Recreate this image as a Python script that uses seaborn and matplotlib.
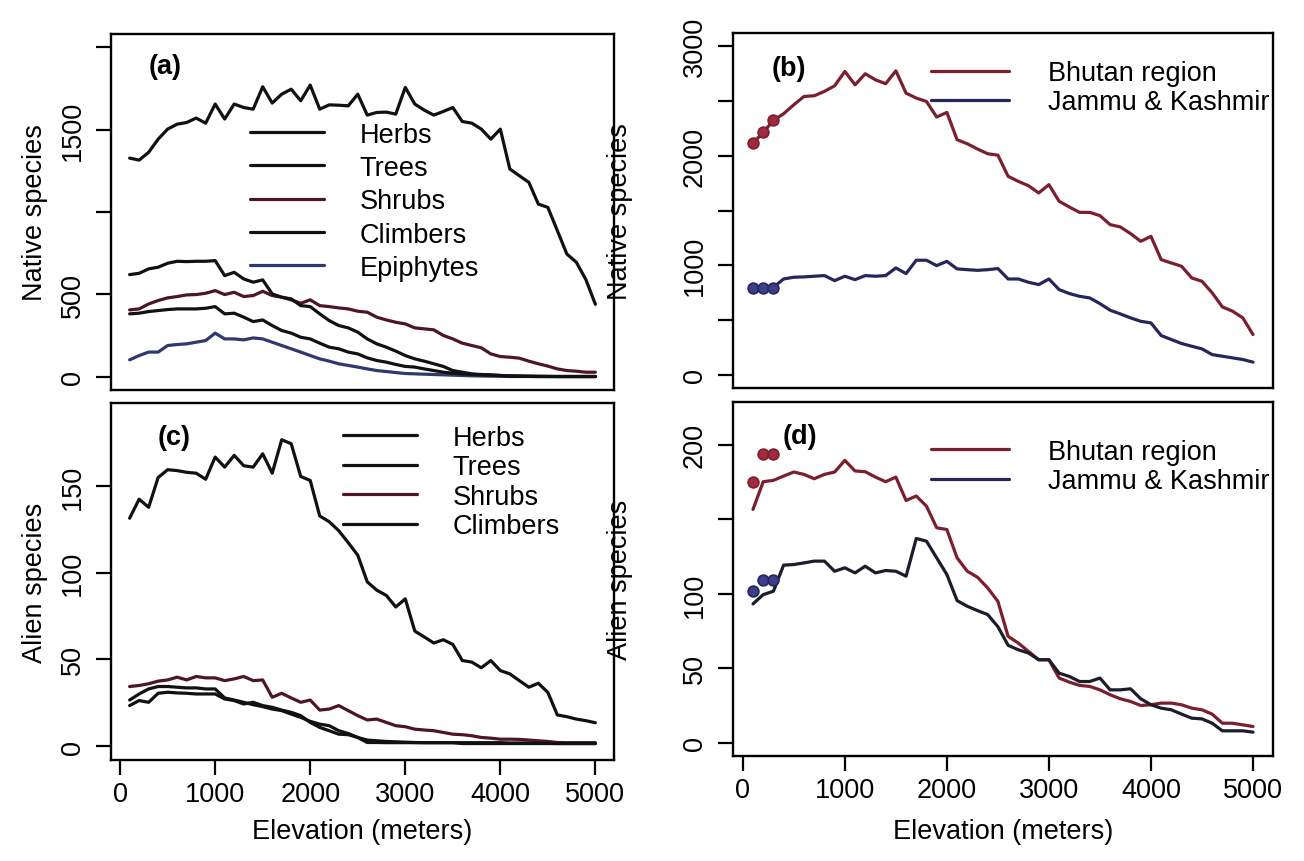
import matplotlib
matplotlib.use("Agg")
import matplotlib.pyplot as plt
from matplotlib.lines import Line2D
import seaborn as sns
import pandas as pd

sns.set_theme(style="white")
plt.rcParams['font.family'] = ['Liberation Sans', 'DejaVu Sans']

# ---------------- data ----------------
elevation = [100, 200, 300, 400, 500, 600, 700, 800, 900, 1000,
             1100, 1200, 1300, 1400, 1500, 1600, 1700, 1800, 1900, 2000,
             2100, 2200, 2300, 2400, 2500, 2600, 2700, 2800, 2900, 3000,
             3100, 3200, 3300, 3400, 3500, 3600, 3700, 3800, 3900, 4000,
             4100, 4200, 4300, 4400, 4500, 4600, 4700, 4800, 4900, 5000]

# (a) native species by life form
herbs_a = [1327, 1315, 1362, 1442, 1503, 1533, 1543, 1570, 1539, 1655,
           1564, 1655, 1634, 1624, 1760, 1661, 1715, 1745, 1675, 1770,
           1624, 1650, 1648, 1644, 1715, 1588, 1604, 1606, 1594, 1756,
           1655, 1618, 1588, 1610, 1634, 1549, 1539, 1503, 1442, 1503,
           1261, 1220, 1180, 1048, 1028, 887, 745, 695, 590, 440]
trees_a = [620, 628, 655, 665, 689, 701, 699, 701, 701, 705,
           614, 634, 594, 574, 588, 503, 483, 473, 432, 426,
           382, 341, 311, 297, 271, 230, 200, 180, 156, 129,
           109, 95, 79, 63, 38, 28, 18, 14, 12, 8,
           5, 4, 3, 3, 2, 2, 2, 2, 2, 2]
shrubs_a = [406, 412, 442, 463, 479, 487, 497, 499, 507, 523,
            499, 513, 487, 493, 519, 493, 483, 467, 446, 467,
            432, 426, 418, 412, 398, 392, 362, 345, 331, 321,
            297, 291, 285, 251, 230, 204, 190, 176, 139, 123,
            119, 113, 95, 79, 65, 48, 38, 34, 28, 28]
climbers_a = [382, 386, 396, 402, 408, 412, 412, 412, 416, 426,
              382, 386, 362, 335, 345, 311, 281, 265, 240, 230,
              204, 180, 170, 150, 139, 115, 99, 89, 75, 63,
              59, 48, 38, 28, 22, 18, 14, 12, 10, 8,
              6, 5, 4, 3, 3, 2, 2, 2, 2, 2]
epiphytes_a = [103, 129, 150, 150, 190, 196, 200, 210, 220, 265,
               230, 230, 224, 236, 230, 210, 190, 170, 150, 129,
               109, 95, 79, 69, 59, 48, 38, 32, 26, 20,
               18, 16, 14, 12, 10, 8, 6, 5, 4, 3,
               2, 2, 2, 1, 1, 1, 1, 1, 1, 1]

# (b) native species by region
bhutan_b = [2115, 2213, 2322, 2383, 2465, 2541, 2547, 2587, 2638, 2769,
            2647, 2748, 2693, 2657, 2775, 2571, 2526, 2495, 2353, 2395,
            2146, 2109, 2061, 2018, 2005, 1812, 1766, 1726, 1660, 1736,
            1584, 1532, 1483, 1483, 1453, 1371, 1350, 1289, 1219, 1264,
            1052, 1021, 991, 884, 854, 748, 620, 581, 520, 368]
jk_b = [793, 793, 799, 875, 891, 894, 900, 906, 860, 900,
        869, 906, 900, 906, 976, 924, 1046, 1046, 997, 1036,
        967, 960, 954, 960, 970, 875, 875, 845, 824, 875,
        778, 742, 717, 702, 650, 590, 556, 520, 489, 474,
        359, 322, 286, 261, 237, 185, 170, 155, 140, 116]
dot_elev = [100, 200, 300]
bhutan_b_dots = [2120, 2220, 2330]
jk_b_dots = [793, 793, 793]

# (c) alien species by life form
herbs_c = [131.5, 142.5, 137.8, 155, 159.5, 159, 158, 157.5, 154, 166.8,
           161, 167.8, 161.8, 161, 168.7, 157.5, 176.8, 174.5, 155.6, 153.3,
           132.8, 129.5, 124.3, 117.4, 110.2, 94.8, 90, 87, 80.3, 85,
           66.4, 63, 59.5, 61.4, 58.7, 49.4, 48.5, 45.2, 49.4, 43.6,
           41.7, 37.8, 34, 36.3, 31, 18, 17, 15.6, 14.7, 13.5]
trees_c = [26.6, 30.1, 33, 34.4, 34.4, 34, 33.6, 33.6, 33, 33,
           27.8, 26.6, 25.3, 23.9, 22.8, 21.4, 20.5, 18.5, 16.6, 14.3,
           12.7, 11.8, 8.9, 7.3, 5, 3.5, 3.1, 2.7, 2.5, 2.3,
           2.1, 2, 2, 2, 2, 2, 2, 2, 2, 2,
           1.8, 1.8, 1.8, 1.6, 1.6, 1.5, 1.5, 1.5, 1.5, 1.5]
shrubs_c = [34.4, 35, 36, 37.5, 38.2, 39.8, 38.2, 40.2, 39.4, 39.4,
            37.8, 38.8, 40.2, 37.8, 38.2, 28.2, 30.5, 27.8, 25.3, 26.6,
            20.8, 21.4, 23.4, 20.5, 17.6, 15.1, 15.6, 13.7, 11.8, 11.2,
            9.8, 9.3, 8.9, 7.9, 6.9, 6.6, 6, 5, 4.6, 4,
            4, 3.9, 3.5, 3.1, 2.7, 2.1, 2, 2, 2, 2]
climbers_c = [23.4, 26.3, 25.3, 30.5, 31.1, 30.7, 30.5, 30.1, 30.1, 30.1,
              27.2, 26.3, 24.3, 25.3, 23.4, 22.4, 20.8, 19.5, 17.6, 13.7,
              10.8, 8.9, 6.9, 6.6, 5, 2.1, 2.1, 2, 2, 2,
              2, 2, 2, 2, 2, 1.5, 1.5, 1.5, 1.5, 1.5,
              1.5, 1.5, 1.5, 1.5, 1.5, 1.5, 1.5, 1.5, 1.5, 1.5]

# (d) alien species by region
bhutan_d = [156.7, 175.3, 176.2, 179.1, 181.8, 180.2, 177.3, 180.2, 181.8, 189.6,
            182.5, 182, 178.4, 175.3, 178.4, 162.7, 165.7, 158.9, 144.4, 143.2,
            124.2, 115.2, 111.2, 104, 95, 71.5, 67, 61.4, 55.8, 55.8,
            43.5, 40.8, 38.6, 37.9, 35.6, 32.3, 29.6, 27.8, 25.1, 25.6,
            26.7, 26.7, 25.6, 23.3, 22.2, 19.3, 13.2, 13.2, 12.1, 11]
jk_d = [93.3, 99.5, 101.8, 119.3, 119.7, 120.8, 122, 122, 115.2, 117.5,
        114.1, 118.6, 114.1, 115.7, 115.2, 111.9, 137.2, 135.4, 124.2, 113,
        95.5, 91.7, 88.8, 86.1, 78, 65.5, 62.5, 60.3, 55.8, 55.8,
        46.8, 44.6, 41.2, 41.2, 43.5, 35.6, 35.6, 36.3, 29.6, 25.6,
        23.3, 22.2, 19.3, 16.6, 16.1, 13.2, 8.1, 8.1, 8.1, 7.2]
bhutan_d_dots = [175, 193.7, 193.7]
jk_d_dots = [101.8, 109.6, 109.6]

life_forms_a = ["Herbs", "Trees", "Shrubs", "Climbers", "Epiphytes"]
life_forms_c = ["Herbs", "Trees", "Shrubs", "Climbers"]
regions = ["Bhutan region", "Jammu & Kashmir"]

xticks = [0, 1000, 2000, 3000, 4000, 5000]

# ---------------- styling ----------------
BLACK = "#111111"
SHRUB = "#4d1526"
EPI = "#2e3a6e"
BHUTAN = "#7b1e2e"
JK = "#25265a"
BHUTAN_DOT = "#a32a3e"
JK_DOT = "#3b3f8a"
form_colors = {"Herbs": BLACK, "Trees": BLACK, "Shrubs": SHRUB,
               "Climbers": BLACK, "Epiphytes": EPI}
FS = 19.5
LW = 2.3

W, H = 1304, 862
fig = plt.figure(figsize=(W / 100, H / 100), dpi=100)
fig.patch.set_facecolor("white")


def add_ax(l, t, r, b):
    return fig.add_axes([l / W, 1 - b / H, (r - l) / W, (b - t) / H])


ax_a = add_ax(111, 35, 614, 391)
ax_b = add_ax(733, 34, 1273, 389)
ax_c = add_ax(111, 404, 614, 761)
ax_d = add_ax(733, 403, 1273, 757)


def long_df(names, series):
    rows = []
    for n, s in zip(names, series):
        for e, v in zip(elevation, s):
            rows.append({"Elevation": e, "value": v, "group": n})
    return pd.DataFrame(rows)


def style_axis(ax, ylim, yticks, ylabels, ylabel, bottom):
    ax.set_xlim(-96, 5196)
    ax.set_ylim(*ylim)
    ax.set_facecolor("white")
    for sp in ax.spines.values():
        sp.set_visible(True)
        sp.set_color("black")
        sp.set_linewidth(1.7)
    ax.set_yticks(yticks)
    ax.set_yticklabels(ylabels, rotation=90, va="center")
    ax.tick_params(axis="y", direction="out", length=11, width=1.6,
                   labelsize=FS, pad=7, colors="black", left=True)
    if bottom:
        ax.set_xticks(xticks)
        ax.set_xticklabels([str(t) for t in xticks])
        ax.tick_params(axis="x", direction="out", length=11, width=1.6,
                       labelsize=FS, pad=4, colors="black", bottom=True)
        ax.set_xlabel("Elevation (meters)", fontsize=FS, color="black")
        ax.xaxis.label.set_va("center")
    else:
        ax.set_xticks([])
        ax.set_xlabel("")
    ax.set_ylabel(ylabel, fontsize=FS, color="black")
    ax.yaxis.label.set_va("center")
    ax.grid(False)


# (a)
df_a = long_df(life_forms_a, [herbs_a, trees_a, shrubs_a, climbers_a, epiphytes_a])
sns.lineplot(data=df_a, x="Elevation", y="value", hue="group", palette=form_colors,
             hue_order=life_forms_a[::-1], linewidth=LW, legend=False, ax=ax_a)
style_axis(ax_a, (-80, 2080), [0, 500, 1000, 1500, 2000],
           ["0", "500", "", "1500", ""], "Native species", False)

# (b)
df_b = long_df(regions, [bhutan_b, jk_b])
sns.lineplot(data=df_b, x="Elevation", y="value", hue="group",
             palette={regions[0]: BHUTAN, regions[1]: JK},
             linewidth=LW, legend=False, ax=ax_b)
sns.scatterplot(x=dot_elev, y=bhutan_b_dots, color=BHUTAN_DOT, s=60,
                edgecolor=BHUTAN, linewidth=1.2, ax=ax_b, zorder=5)
sns.scatterplot(x=dot_elev, y=jk_b_dots, color=JK_DOT, s=60,
                edgecolor=JK, linewidth=1.2, ax=ax_b, zorder=5)
style_axis(ax_b, (-120, 3120), [0, 500, 1000, 1500, 2000, 2500, 3000],
           ["0", "", "1000", "", "2000", "", "3000"], "Native species", False)

# (c)
df_c = long_df(life_forms_c, [herbs_c, trees_c, shrubs_c, climbers_c])
sns.lineplot(data=df_c, x="Elevation", y="value", hue="group", palette=form_colors,
             hue_order=life_forms_c[::-1], linewidth=LW, legend=False, ax=ax_c)
style_axis(ax_c, (-8, 198), [0, 50, 100, 150],
           ["0", "50", "100", "150"], "Alien species", True)

# (d)
df_d = long_df(regions, [bhutan_d, jk_d])
sns.lineplot(data=df_d, x="Elevation", y="value", hue="group",
             palette={regions[0]: BHUTAN, regions[1]: "#1c1c2c"},
             linewidth=LW, legend=False, ax=ax_d)
sns.scatterplot(x=dot_elev, y=bhutan_d_dots, color=BHUTAN_DOT, s=60,
                edgecolor=BHUTAN, linewidth=1.2, ax=ax_d, zorder=5)
sns.scatterplot(x=dot_elev, y=jk_d_dots, color=JK_DOT, s=60,
                edgecolor=JK, linewidth=1.2, ax=ax_d, zorder=5)
style_axis(ax_d, (-8.8, 228.8), [0, 50, 100, 150, 200],
           ["0", "50", "100", "", "200"], "Alien species", True)

# axis label positions
for ax, fx in [(ax_a, -0.151), (ax_c, -0.151), (ax_b, -0.209), (ax_d, -0.209)]:
    ax.yaxis.set_label_coords(fx, 0.5)
ax_c.xaxis.set_label_coords(0.5, -0.199)
ax_d.xaxis.set_label_coords(0.5, -0.212)

# panel letters
for ax, lab, fx, fy in [(ax_a, "(a)", 0.075, 0.91), (ax_b, "(b)", 0.072, 0.90),
                        (ax_c, "(c)", 0.093, 0.905), (ax_d, "(d)", 0.091, 0.904)]:
    ax.text(fx, fy, lab, transform=ax.transAxes, fontsize=FS, fontweight="bold",
            ha="left", va="center", color="black")


def add_legend(ax, names, colors, anchor, spacing, hlen, pad):
    handles = [Line2D([0], [0], color=c, lw=LW) for c in colors]
    leg = ax.legend(handles, names, loc="upper left", bbox_to_anchor=anchor,
                    frameon=False, fontsize=FS, handlelength=hlen,
                    handletextpad=pad, labelspacing=spacing, borderpad=0,
                    borderaxespad=0)
    for t in leg.get_texts():
        t.set_color("black")


add_legend(ax_a, life_forms_a, [form_colors[n] for n in life_forms_a],
           (0.276, 0.754), 0.27, 2.75, 1.3)
add_legend(ax_c, life_forms_c, [form_colors[n] for n in life_forms_c],
           (0.461, 0.939), 0.13, 2.75, 1.3)
add_legend(ax_b, regions, [BHUTAN, JK], (0.366, 0.924), 0.12, 2.9, 1.45)
add_legend(ax_d, regions, [BHUTAN, JK], (0.366, 0.896), 0.12, 2.9, 1.45)

fig.savefig("out.png", dpi=100, facecolor="white")
